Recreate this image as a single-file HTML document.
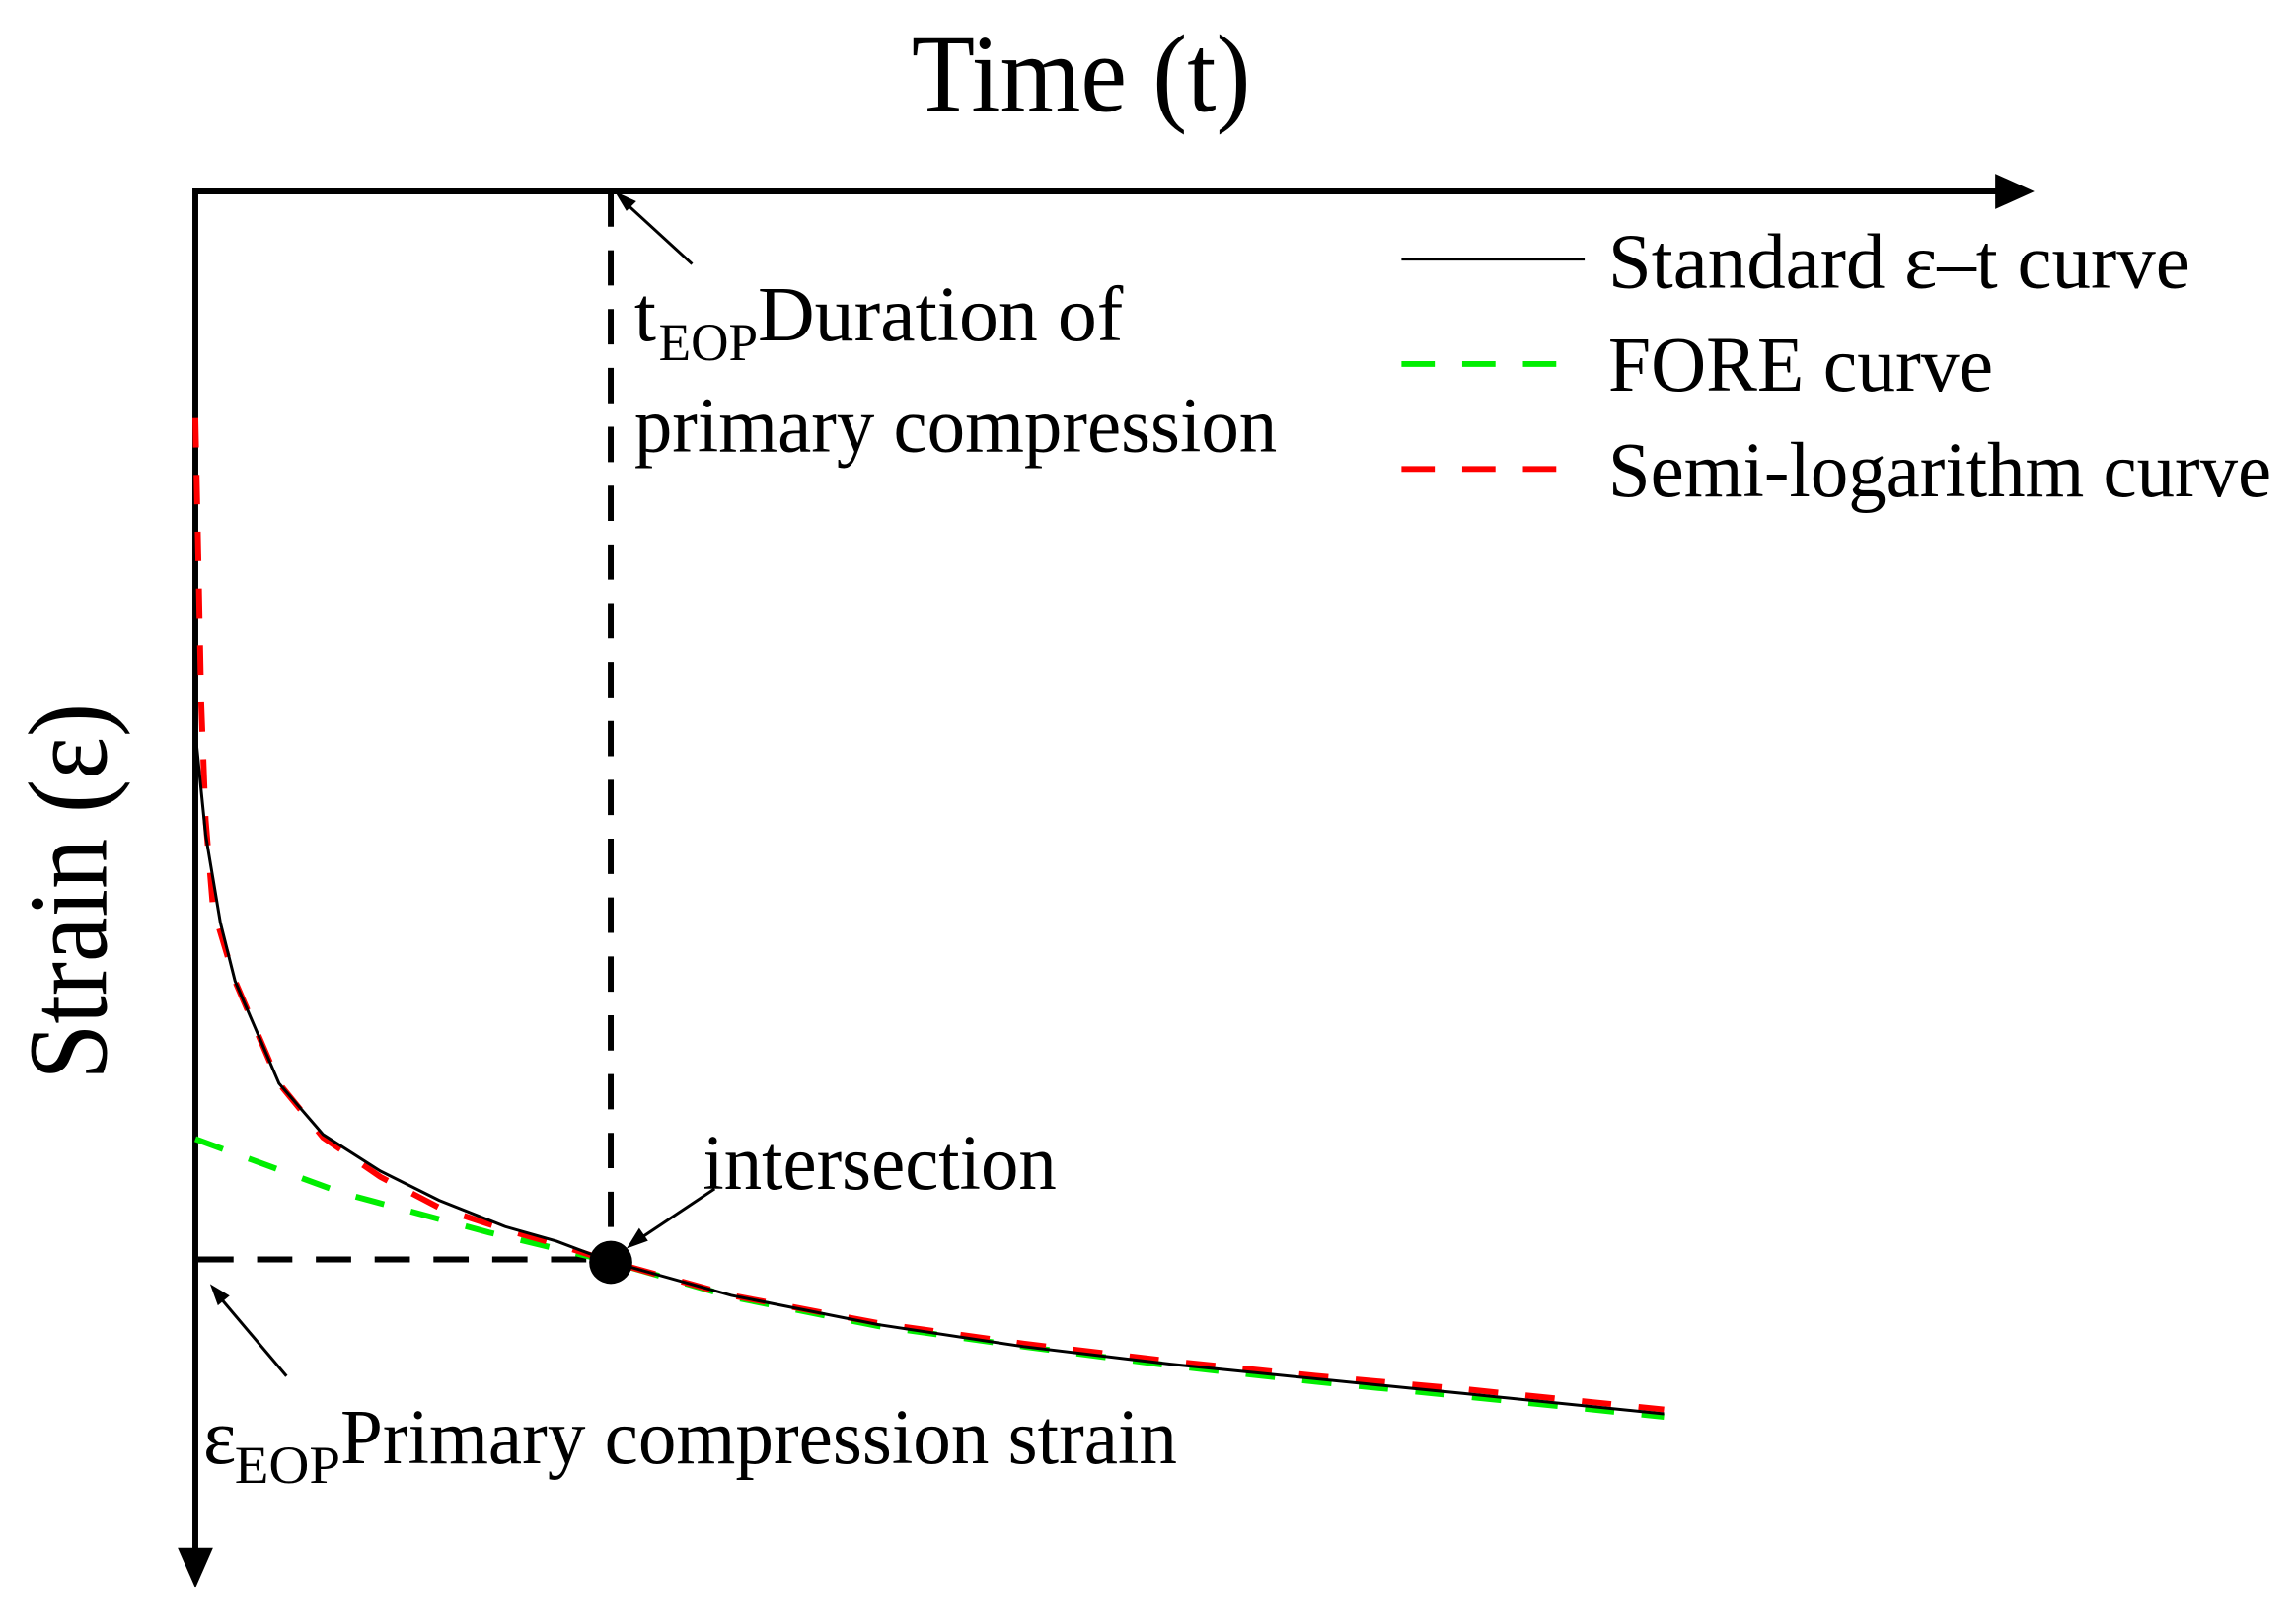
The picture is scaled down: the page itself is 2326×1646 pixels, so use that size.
<!DOCTYPE html>
<html><head><meta charset="utf-8"><style>html,body{margin:0;padding:0;background:#fff}svg{display:block}text{font-family:"Liberation Serif",serif;fill:#000}</style></head>
<body>
<svg id="chart" width="2326" height="1646" viewBox="0 0 2326 1646" xmlns="http://www.w3.org/2000/svg">
<g transform="translate(198,194) scale(0.993,0.994) translate(-198,-194)">
<g id="axes">
<line x1="198" y1="194" x2="2040" y2="194" stroke="#000" stroke-width="6"/>
<polygon points="2035,176 2075,194 2035,212" fill="#000"/>
<line x1="198" y1="191" x2="198" y2="1580" stroke="#000" stroke-width="6"/>
<polygon points="180,1577 198,1618 216,1577" fill="#000"/>
</g>
<text x="929" y="112" font-size="113" textLength="346" lengthAdjust="spacingAndGlyphs">Time (t)</text>
<text transform="translate(107,1100) rotate(-90)" font-size="115" textLength="384" lengthAdjust="spacingAndGlyphs">Strain (ε)</text>
<line x1="622" y1="194" x2="622" y2="1285" stroke="#000" stroke-width="6" stroke-dasharray="36,24"/>
<line x1="201" y1="1283" x2="622" y2="1283" stroke="#000" stroke-width="6" stroke-dasharray="36,24"/>
<g id="series"></g>
<circle cx="622" cy="1286" r="22" fill="#000"/>
<g stroke="#000" stroke-width="3" fill="#000">
<line x1="705" y1="268" x2="634" y2="203"/><polygon points="626,194 648,204 638,214" stroke="none"/>
<line x1="728" y1="1211" x2="650" y2="1263"/><polygon points="638,1272 651,1251 660,1264" stroke="none"/>
<line x1="291" y1="1402" x2="220" y2="1318"/><polygon points="213,1308 233,1320 221,1330" stroke="none"/>
</g>
<text x="646" y="346" font-size="80">t</text>
<text x="671" y="366" font-size="54" textLength="101" lengthAdjust="spacingAndGlyphs">EOP</text>
<text x="772" y="346" font-size="80" textLength="373" lengthAdjust="spacingAndGlyphs">Duration of</text>
<text x="646" y="459" font-size="80" textLength="656" lengthAdjust="spacingAndGlyphs">primary compression</text>
<text x="716" y="1211" font-size="80" textLength="361" lengthAdjust="spacingAndGlyphs">intersection</text>
<text x="206" y="1491" font-size="80">ε</text>
<text x="238" y="1511" font-size="54" textLength="108" lengthAdjust="spacingAndGlyphs">EOP</text>
<text x="346" y="1491" font-size="80" textLength="854" lengthAdjust="spacingAndGlyphs">Primary compression strain</text>
<g id="legend">
<g><line x1="1429" y1="263" x2="1616" y2="263" stroke="#000" stroke-width="3"/><text x="1640" y="292" font-size="80" textLength="594" lengthAdjust="spacingAndGlyphs">Standard ε–t curve</text></g>
<g><line x1="1429" y1="370" x2="1608" y2="370" stroke="#00ee00" stroke-width="6" stroke-dasharray="34,28"/><text x="1640" y="397" font-size="80" textLength="393" lengthAdjust="spacingAndGlyphs">FORE curve</text></g>
<g><line x1="1429" y1="477" x2="1608" y2="477" stroke="#ff0000" stroke-width="6" stroke-dasharray="34,28"/><text x="1640" y="505" font-size="80" textLength="677" lengthAdjust="spacingAndGlyphs">Semi-logarithm curve</text></g>
</g>
</g>
</svg>
<script>
const stdT = [0, 0.07, 0.17, 0.27, 0.57, 0.87, 1.26, 1.66, 2.11, 2.46, 2.83, 3.65, 4.65, 5.64, 6.64, 7.63, 8.63, 10];
const stdE = [3.70, 4.4, 5.0, 5.4, 6.1, 6.45, 6.7, 6.9, 7.08, 7.18, 7.32, 7.55, 7.75, 7.9, 8.02, 8.12, 8.22, 8.36];
const semiT = [0, 0.02, 0.04, 0.07, 0.12, 0.27, 0.57, 0.87, 1.26, 1.66, 2.11, 2.46, 2.83, 3.65, 4.65, 5.64, 6.64, 7.63, 8.63, 10];
const semiE = [1.55, 2.5, 3.5, 4.3, 4.9, 5.4, 6.1, 6.47, 6.74, 6.95, 7.1, 7.2, 7.32, 7.55, 7.74, 7.88, 8.0, 8.1, 8.19, 8.33];
const foreT = [0, 1, 2, 2.83, 3.65, 4.65, 5.64, 6.64, 7.63, 8.63, 10];
const foreE = [6.48, 6.85, 7.12, 7.32, 7.56, 7.76, 7.9, 8.03, 8.14, 8.24, 8.38];
function xScale(t){ return 198 + t * 149.9; }
function yScale(e){ return 194 + e * 149.1; }
function pathD(ts, es){ return ts.map((t,i)=>(i?'L':'M')+xScale(t).toFixed(1)+','+yScale(es[i]).toFixed(1)).join(' '); }
const g = document.getElementById('series');
const NS = 'http://www.w3.org/2000/svg';
const pf = document.createElementNS(NS,'path');
pf.setAttribute('d', pathD(foreT, foreE));
pf.setAttribute('fill','none'); pf.setAttribute('stroke','#00ee00'); pf.setAttribute('stroke-width','6'); pf.setAttribute('stroke-dasharray','30,28');


g.appendChild(pf);
const ps = document.createElementNS(NS,'path');
ps.setAttribute('d', pathD(semiT, semiE));
ps.setAttribute('fill','none'); ps.setAttribute('stroke','#ff0000'); ps.setAttribute('stroke-width','6'); ps.setAttribute('stroke-dasharray','30,28');


g.appendChild(ps);
const pb = document.createElementNS(NS,'path');
pb.setAttribute('d', pathD(stdT, stdE));
pb.setAttribute('fill','none'); pb.setAttribute('stroke','#000'); pb.setAttribute('stroke-width','3');


g.appendChild(pb);
</script>
</body></html>
